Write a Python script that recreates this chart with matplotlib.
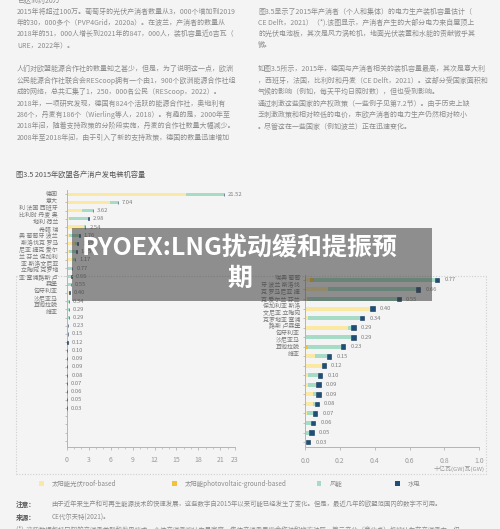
import numpy as np
import matplotlib
matplotlib.use("Agg")
import matplotlib.pyplot as plt
from matplotlib.patches import Rectangle
from matplotlib.lines import Line2D

plt.rcParams['font.family'] = ['Noto Sans CJK SC', 'DejaVu Sans']

W, H = 500, 529

# ---------- data ----------
totals = [21.52, 7.04, 3.62, 2.98, 2.54, 1.76, 1.55, 1.35, 1.17,
          0.77, 0.66, 0.55, 0.40, 0.34, 0.29, 0.29, 0.23, 0.15,
          0.12, 0.10, 0.09, 0.09, 0.08, 0.07, 0.06, 0.05, 0.03]
roof = [16.30, 5.90, 2.05, 0.35, 2.30, 0.25, 1.20, 0.30, 0.90,
        0.03, 0.13, 0.01, 0.375, 0.02, 0.245, 0.0, 0.0, 0.055,
        0.095, 0.02, 0.015, 0.045, 0.045, 0.01, 0.005, 0.0, 0.005]
ground = [0, 0, 0, 0, 0, 0, 0, 0, 0,
          0.02, 0, 0, 0, 0, 0, 0, 0.015, 0,
          0, 0, 0, 0, 0, 0, 0, 0, 0]
wind = [5.22, 1.14, 1.50, 2.55, 0.24, 1.45, 0.20, 1.00, 0.27,
        0.695, 0.505, 0.515, 0.0, 0.295, 0.02, 0.265, 0.19, 0.07,
        0.0, 0.055, 0.05, 0.02, 0.01, 0.035, 0.03, 0.025, 0.0]
hydro = [0, 0, 0.07, 0.08, 0, 0.06, 0.15, 0.05, 0,
         0.025, 0.025, 0.025, 0.025, 0.025, 0.025, 0.025, 0.025, 0.025,
         0.025, 0.025, 0.025, 0.025, 0.025, 0.025, 0.025, 0.025, 0.025]

series_names = ["太阳能光伏roof-based", "太阳能photovoltaic-ground-based", "风能", "水电"]
colors = ["#fbe9a3", "#f2c23c", "#a6dcc6", "#1d4f78"]

# country names as they wrap in the original label block
left_label_lines = ["德国", "意大", "利 法国 西班牙", "比利时 丹麦 奥", "地利 荷兰",
                    "希腊 瑞", "典 葡萄牙 波兰", "斯洛伐克 罗马", "尼亚 捷克 爱尔",
                    "兰 芬兰 保加利", "亚 斯洛文尼亚", "立陶宛 克罗地", "亚 塞浦路斯 卢",
                    "森堡", "匈牙利亚", "沙尼亚马", "耳他拉脱", "维亚"]
right_label_lines = ["瑞典 葡萄", "牙 波兰 斯洛伐", "克 罗马尼亚 捷", "克 爱尔兰 芬兰",
                     "保加利亚 斯洛", "文尼亚 立陶宛", "克罗地亚 塞浦", "路斯 卢森堡",
                     "匈牙利亚", "沙尼亚马", "耳他拉脱", "维亚"]

left_xticks = [0, 3, 6, 9, 12, 15, 18, 21, 23]
right_xticks = [0.0, 0.2, 0.4, 0.6, 0.8, 1.0]

col1_p1 = ["已达到约20万",
           "2015年将超过100万。葡萄牙的光伏产消者数量从3，000个增加到2019",
           "年的30，000多个（PVP4Grid，2020a）。在波兰，产消者的数量从",
           "2018年的51，000人增长到2021年的847，000人，装机容量近6吉瓦（",
           "URE，2022年）。"]
col1_p2 = ["人们对欧盟能源合作社的数量知之甚少，但是，为了说明这一点，欧洲",
           "公民能源合作社联合会REScoop拥有一个由1，900个欧洲能源合作社组",
           "成的网络，总共汇集了1，250，000名公民（REScoop，2022）。",
           "2018年，一项研究发现，德国有824个活跃的能源合作社，奥地利有",
           "286个，丹麦有186个（Wierling等人，2018）。有趣的是，2000年至",
           "2018年间，随着支持政策的分阶段实施，丹麦的合作社数量大幅减少。",
           "2008年至2018年间，由于引入了新的支持政策，德国的数量迅速增加"]
col2_p1 = ["图3.5显示了2015年产消者（个人和集体）的电力生产装机容量估计（",
           "CE Delft，2021）（*).该图显示，产消者产生的大部分电力来自屋顶上",
           "的光伏电池板，其次是风力涡轮机，地面光伏装置和水能的贡献微乎其",
           "微。"]
col2_p2 = ["如图3.5所示，2015年，德国与产消者相关的装机容量最高，其次是意大利",
           "，西班牙，法国，比利时和丹麦（CE Delft，2021）。这部分受国家面积和",
           "气候的影响（例如，每天平均日照时数），但也受到影响。",
           "通过刺激这些国家的产权政策（一些例子见第7.2节）。由于历史上缺",
           "乏刺激政策和相对较低的电价，东欧产消者的电力生产仍然相对较小",
           "。尽管这在一些国家（例如波兰）正在迅速变化。"]


def fx(x):
    return x / W


def fy(y):
    return 1 - y / H


fig = plt.figure(figsize=(5, 5.29), dpi=100, facecolor="#f4f4f4")

# ---------- body text ----------
body_col = "#8c8c8c"
for i, s in enumerate(col1_p1):
    fig.text(fx(17), fy(0.5 + i * 11.3), s, fontsize=5, color=body_col, va="center")
for i, s in enumerate(col1_p2):
    fig.text(fx(17), fy(69.3 + i * 11.4), s, fontsize=5, color=body_col, va="center")
for i, s in enumerate(col2_p1):
    fig.text(fx(258), fy(11.7 + i * 11.1), s, fontsize=5, color=body_col, va="center")
for i, s in enumerate(col2_p2):
    fig.text(fx(258), fy(69.3 + i * 11.5), s, fontsize=5, color=body_col, va="center")

fig.text(fx(16), fy(175), "图3.5 2015年欧盟各产消户发电装机容量", fontsize=5.2,
         color="#555555", va="center")

# ---------- stacked bars helper ----------
parts = [np.array(roof), np.array(ground), np.array(wind), np.array(hydro)]
tot = np.array(totals)


def draw_bars(ax, rows, h, hydro_h):
    lefts = np.zeros(len(rows))
    for k, vals in enumerate(parts):
        v = vals[rows]
        if k == 3:
            ax.barh(np.arange(len(rows)), v, left=lefts, height=hydro_h,
                    color=colors[k], edgecolor="#0f3556", linewidth=0.4, zorder=3)
        else:
            ax.barh(np.arange(len(rows)), v, left=lefts, height=h,
                    color=colors[k], linewidth=0, zorder=2)
        lefts = lefts + v


def style_axis(ax):
    for s in ["top", "right"]:
        ax.spines[s].set_visible(False)
    for s in ["left", "bottom"]:
        ax.spines[s].set_color("#b5b5b5")
        ax.spines[s].set_linewidth(0.7)
    ax.set_facecolor("none")
    ax.tick_params(axis="both", colors="#b5b5b5", labelcolor="#9a9a9a",
                   labelsize=5, length=2, width=0.6, pad=5)


# ---------- left chart: all countries ----------
ax1 = fig.add_axes([fx(66.7), fy(446.7), (235 - 66.7) / W, (446.7 - 190) / H])
rows_all = np.arange(len(totals))
draw_bars(ax1, rows_all, 0.38, 0.38)
ax1.set_xlim(0, 23)
ax1.set_ylim(30.7, -0.5)
ax1.set_xticks(left_xticks)
ax1.set_xticks(np.arange(0, 24, 1), minor=True)
ax1.tick_params(axis="x", which="minor", length=1.2, width=0.5, colors="#b5b5b5")
ax1.set_yticks(np.arange(0, 31))
ax1.set_yticklabels([])
style_axis(ax1)
ax1.tick_params(axis="y", length=1.8)
for i, t in enumerate(totals):
    ax1.text(t + 0.55, i, f"{t:.2f}", fontsize=4.2, color="#7d7d7d", va="center")

for i, s in enumerate(left_label_lines):
    fig.text(fx(58), fy(194 + i * 6.98), s, fontsize=4.3, color="#7a7a7a",
             ha="right", va="center")

# ---------- right chart: countries below 1 GW ----------
zoom_rows = np.array([i for i, t in enumerate(totals) if t < 1])
ax2 = fig.add_axes([fx(305), fy(447.3), (479.3 - 305) / W, (447.3 - 275) / H])
draw_bars(ax2, zoom_rows, 0.42, 0.5)
ax2.set_xlim(0, 1.0)
ax2.set_ylim(len(zoom_rows) - 0.45, -0.52)
ax2.set_xticks(right_xticks)
ax2.set_xticklabels([f"{v:.1f}" for v in right_xticks])
ax2.set_yticks(np.arange(len(zoom_rows)))
ax2.set_yticklabels([])
style_axis(ax2)
ax2.tick_params(axis="y", length=1.8)
for j, i in enumerate(zoom_rows):
    ax2.text(totals[i] + 0.03, j, f"{totals[i]:.2f}", fontsize=4.2,
             color="#7d7d7d", va="center")

for i, s in enumerate(right_label_lines):
    fig.text(fx(300), fy(278.3 + i * 6.9), s, fontsize=4.3, color="#7a7a7a",
             ha="right", va="center")

fig.text(fx(485), fy(468.3), "十亿瓦(GW)瓦(GW)", fontsize=4.3, color="#9a9a9a",
         ha="right", va="center")

# dotted frame around the zoomed part
dot = dict(color="#cfcfcf", linestyle=(0, (1, 1.5)), linewidth=0.8,
           transform=fig.transFigure)
for (x0, y0, x1, y1) in [(16, 276, 486, 276), (16, 276, 16, 474),
                         (486, 276, 486, 474), (16, 474, 486, 474)]:
    fig.add_artist(Line2D([fx(x0), fx(x1)], [fy(y0), fy(y1)], **dot))

# ---------- legend ----------
legend_x = [41.7, 174.3, 319, 397.7]
for k, name in enumerate(series_names):
    fig.add_artist(Rectangle((fx(legend_x[k] - 2.3), fy(483.7 + 2.3)), 4.6 / W, 4.6 / H,
                             transform=fig.transFigure, facecolor=colors[k],
                             edgecolor="none"))
    fig.text(fx(legend_x[k] + 10.5), fy(483.7), name, fontsize=4.6,
             color="#8c8c8c", va="center")

# ---------- notes ----------
fig.text(fx(15.7), fy(504), "注意：", fontsize=4.8, color="#555555", va="center",
         fontweight="bold")
fig.text(fx(51.7), fy(504),
         "由于近年来生产和可再生能源技术的快速发展，这些数字自2015年以来可能已经发生了变化。但是，最近几年的欧盟范围内的数字不可用。",
         fontsize=4.6, color="#8c8c8c", va="center")
fig.text(fx(15.7), fy(517.3), "来源：", fontsize=4.8, color="#555555", va="center",
         fontweight="bold")
fig.text(fx(51.7), fy(517.3), "CE代尔夫特(2021)。", fontsize=4.6, color="#8c8c8c",
         va="center")
fig.text(fx(15.7), fy(529.5),
         "(*)  这些数据包括已知的产消者类型和发电技术，个体产消者被认为是家庭，集体产消者是指合作社和地方社区，第二产业（商业点）也被认为在产消者中，但",
         fontsize=4.6, color="#8c8c8c", va="center")

# ---------- overlay banner ----------
fig.add_artist(Rectangle((fx(72), fy(301)), (432 - 72) / W, (301 - 228) / H,
                         transform=fig.transFigure, facecolor="#3a3a3a",
                         alpha=0.55, edgecolor="none", zorder=10))
fig.text(fx(240), fy(248), "RYOEX:LNG扰动缓和提振预", fontsize=18, color="white",
         fontweight="bold", ha="center", va="center", zorder=11)
fig.text(fx(240), fy(279), "期", fontsize=18, color="white",
         fontweight="bold", ha="center", va="center", zorder=11)

fig.savefig("out.png", dpi=100, facecolor=fig.get_facecolor())
